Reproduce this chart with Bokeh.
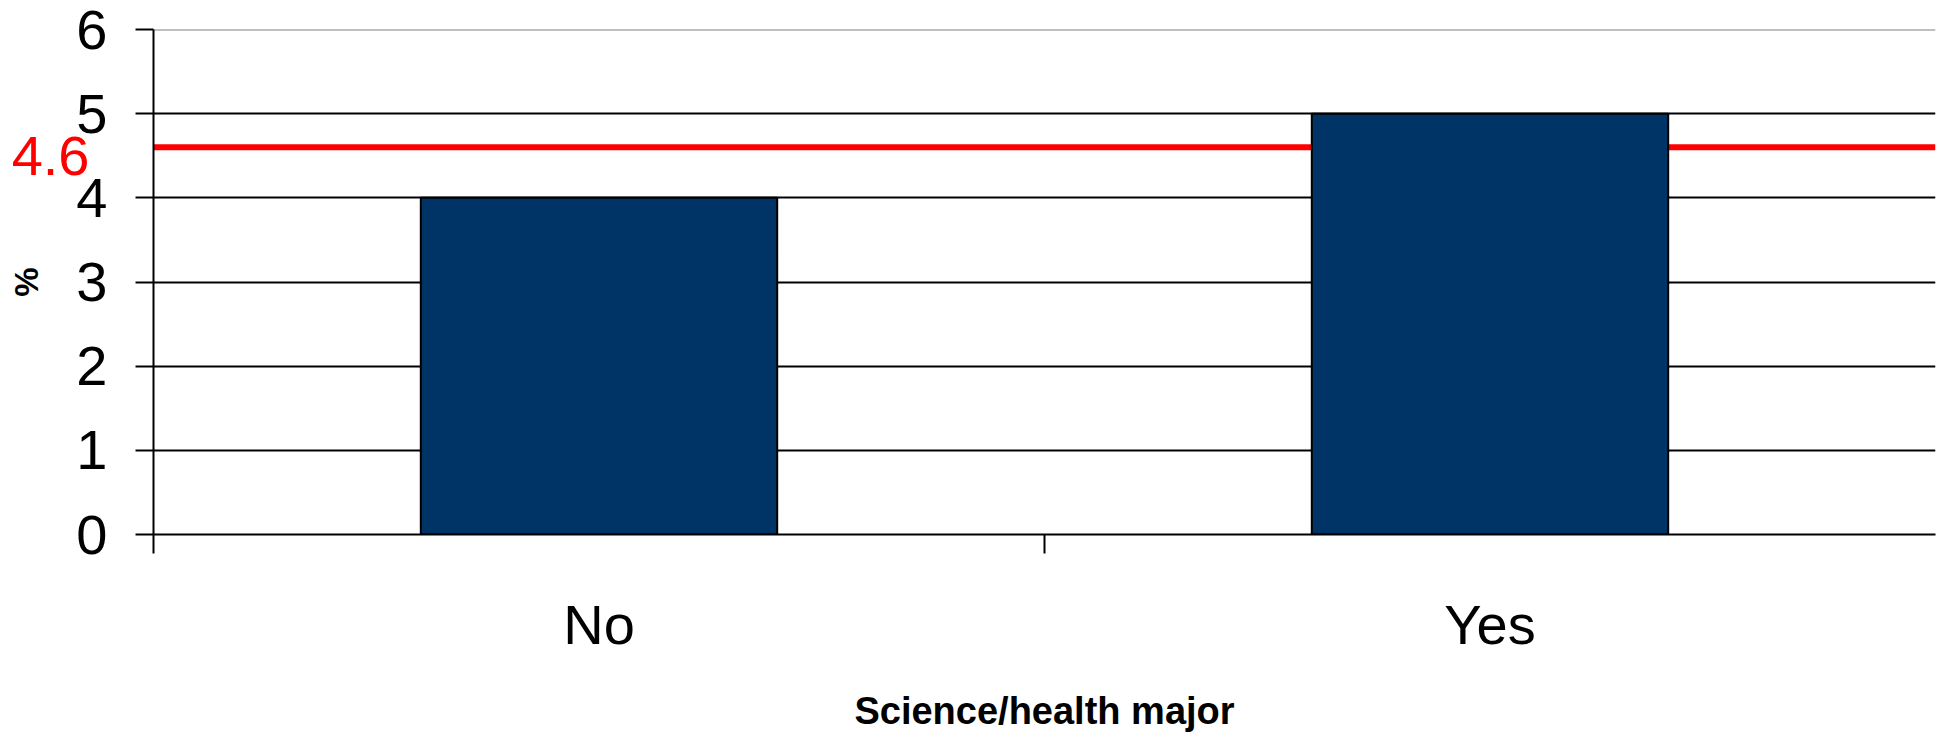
from bokeh.plotting import figure
from bokeh.models import Range1d, FixedTicker, Span, LinearAxis, ColumnDataSource
from bokeh.embed import file_html
from bokeh.resources import INLINE

# ---- data ----
categories = ["No", "Yes"]
values = [4, 5]
reference_value = 4.6
y_ticks = [0, 1, 2, 3, 4, 5, 6]
x_title = "Science/health major"
y_title = "%"

FONT = "Liberation Sans"
n = len(categories)
centers = [i + 0.5 for i in range(n)]
boundaries = list(range(n))

p = figure(width=1947, height=738, output_backend="svg", toolbar_location=None,
           x_range=Range1d(0, n), y_range=Range1d(0, 6),
           min_border_left=153, min_border_right=12, min_border_top=29, min_border_bottom=204)
p.outline_line_color = None
p.background_fill_color = "white"
p.border_fill_color = "white"

# grid
p.xgrid.visible = False
p.ygrid.ticker = FixedTicker(ticks=[1, 2, 3, 4, 5])
p.ygrid.grid_line_color = "black"
p.ygrid.grid_line_width = 2
p.ygrid.level = "underlay"
top_line = Span(location=6, dimension="width", line_color="#808080", line_width=2, level="underlay")
p.add_layout(top_line)

# reference line (behind bars)
ref = Span(location=reference_value, dimension="width", line_color="#FF0000", line_width=6, level="underlay")
p.add_layout(ref)

# bars
src = ColumnDataSource(dict(x=centers, top=values, cat=categories))
p.vbar(x="x", top="top", width=0.4, bottom=0, source=src,
       fill_color="#003366", line_color="black", line_width=2)

# x axis
xa = p.xaxis[0]
xa.ticker = FixedTicker(ticks=centers, minor_ticks=boundaries)
xa.major_label_overrides = {c: cat for c, cat in zip(centers, categories)}
xa.major_tick_out = 0
xa.major_tick_in = 0
xa.minor_tick_out = 19
xa.minor_tick_in = 0
xa.minor_tick_line_color = "black"
xa.minor_tick_line_width = 2
xa.axis_line_color = "black"
xa.axis_line_width = 2
xa.major_label_standoff = 39
xa.major_label_text_font = FONT
xa.major_label_text_font_size = "56px"
xa.major_label_text_color = "black"
xa.axis_label = x_title
xa.axis_label_text_font = FONT
xa.axis_label_text_font_style = "bold"
xa.axis_label_text_font_size = "38px"
xa.axis_label_text_color = "black"
xa.axis_label_standoff = 31

# y axis
ya = p.yaxis[0]
ya.ticker = FixedTicker(ticks=y_ticks)
ya.major_tick_out = 18
ya.major_tick_in = 0
ya.minor_tick_out = 0
ya.minor_tick_in = 0
ya.major_tick_line_color = "black"
ya.major_tick_line_width = 2
ya.axis_line_color = "black"
ya.axis_line_width = 2
ya.major_label_standoff = 28
ya.major_label_text_font = FONT
ya.major_label_text_font_size = "56px"
ya.major_label_text_color = "black"
ya.axis_label = y_title
ya.axis_label_text_font = FONT
ya.axis_label_text_font_style = "bold"
ya.axis_label_text_font_size = "33px"
ya.axis_label_text_color = "black"
ya.axis_label_standoff = 28

# reference value label (red, left of the axis) via an extra left axis
ref_tick = round(reference_value - 0.1, 2)
ref_axis = LinearAxis(ticker=FixedTicker(ticks=[ref_tick]),
                      major_label_overrides={ref_tick: f"{reference_value}"},
                      axis_line_color=None, major_tick_line_color=None,
                      minor_tick_line_color=None,
                      major_tick_out=0, major_tick_in=0, minor_tick_out=0, minor_tick_in=0,
                      major_label_standoff=-84,
                      major_label_text_font=FONT, major_label_text_font_size="56px",
                      major_label_text_color="#FF0000")
p.add_layout(ref_axis, "left")

open("out.html", "w").write(file_html(p, INLINE))
